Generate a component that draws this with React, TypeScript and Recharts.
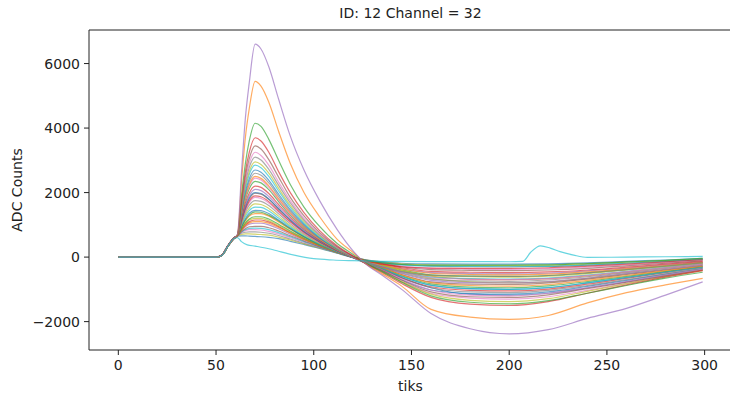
import { Line, LineChart, ReferenceLine, XAxis, YAxis } from "recharts";

// sample positions (tiks) shared by most traces
const TIKS = [0, 50, 53, 56, 59, 61, 63, 65, 67, 70, 73, 77, 82, 88, 95, 103, 112, 120, 127, 135, 145, 160, 180, 200, 220, 240, 260, 280, 299];

// the cyan trace with the late bump has its own sampling
const CYAN_TIKS = [0, 50, 53, 56, 59, 61, 63, 66, 70, 77, 82, 90, 100, 110, 120, 135, 160, 180, 200, 207, 211, 216, 221, 226, 233, 240, 260, 280, 299];
const cyanBump = [0, 0, 50, 330, 570, 600, 480, 380, 340, 260, 180, 60, -50, -90, -110, -130, -140, -140, -145, -130, 150, 350, 280, 170, 60, -10, 0, 10, 20];

const purple6600 = [0, 0, 60, 350, 580, 720, 2600, 4300, 5400, 6600, 6450, 5900, 4900, 3750, 2700, 1750, 850, 200, -230, -560, -1000, -1750, -2220, -2380, -2250, -1900, -1590, -1180, -770];
const orange5450 = [0, 0, 50, 330, 570, 700, 2300, 3700, 4600, 5450, 5300, 4800, 3900, 2900, 2000, 1250, 550, 150, -220, -520, -900, -1620, -1860, -1930, -1810, -1420, -1100, -860, -660];
const green4150 = [0, 0, 60, 340, 580, 690, 1900, 2900, 3600, 4150, 4050, 3650, 3000, 2250, 1550, 950, 420, 90, -200, -450, -780, -1200, -1400, -1450, -1350, -1120, -880, -650, -470];
const red3700 = [0, 0, 70, 360, 590, 680, 1750, 2650, 3250, 3700, 3600, 3250, 2650, 2000, 1380, 820, 350, 40, -220, -480, -820, -1250, -1460, -1500, -1380, -1120, -860, -620, -420];
const brown3450 = [0, 0, 50, 330, 570, 670, 1650, 2500, 3050, 3450, 3350, 3020, 2480, 1850, 1280, 760, 320, 30, -200, -420, -720, -1080, -1230, -1250, -1170, -980, -780, -580, -400];
const pink3250 = [0, 0, 60, 340, 580, 680, 1600, 2380, 2900, 3250, 3150, 2850, 2330, 1750, 1200, 720, 300, 20, -200, -400, -680, -1020, -1180, -1200, -1120, -950, -760, -560, -380];
const gray3100 = [0, 0, 50, 320, 560, 660, 1550, 2300, 2780, 3100, 3010, 2720, 2230, 1680, 1150, 690, 290, 20, -190, -380, -650, -950, -1080, -1100, -1030, -880, -700, -520, -350];
const olive2950 = [0, 0, 60, 340, 580, 670, 1500, 2200, 2650, 2950, 2870, 2600, 2130, 1600, 1100, 660, 270, 10, -210, -440, -760, -1150, -1340, -1380, -1290, -1060, -820, -600, -410];
const cyan2850 = [0, 0, 50, 330, 570, 670, 1450, 2120, 2560, 2850, 2770, 2500, 2050, 1540, 1050, 630, 260, 10, -180, -360, -600, -880, -980, -1000, -940, -800, -640, -470, -320];
const blue2700 = [0, 0, 60, 340, 590, 680, 1400, 2020, 2430, 2700, 2630, 2380, 1950, 1470, 1010, 600, 250, 0, -200, -410, -700, -1020, -1130, -1150, -1080, -910, -720, -530, -360];
const gray2600 = [0, 0, 50, 330, 570, 660, 1370, 1950, 2340, 2600, 2540, 2300, 1880, 1420, 970, 580, 240, 0, -160, -300, -450, -560, -590, -600, -570, -490, -390, -280, -180];
const orange2500 = [0, 0, 50, 330, 570, 660, 1330, 1880, 2250, 2500, 2440, 2210, 1810, 1370, 940, 560, 230, 0, -170, -330, -550, -790, -880, -900, -850, -720, -570, -420, -290];
const pink2450 = [0, 0, 50, 330, 570, 660, 1310, 1850, 2200, 2450, 2390, 2160, 1770, 1340, 920, 550, 220, -10, -210, -440, -760, -1120, -1270, -1300, -1230, -1030, -810, -590, -400];
const green2350 = [0, 0, 60, 340, 580, 670, 1280, 1780, 2120, 2350, 2300, 2090, 1720, 1300, 900, 540, 220, 0, -180, -350, -580, -830, -930, -950, -890, -760, -600, -440, -300];
const red2200 = [0, 0, 60, 350, 590, 680, 1220, 1680, 1990, 2200, 2160, 1970, 1630, 1240, 860, 520, 210, -10, -190, -380, -640, -920, -1030, -1050, -990, -840, -660, -480, -320];
const purple2100 = [0, 0, 50, 330, 570, 660, 1180, 1610, 1900, 2100, 2060, 1880, 1560, 1190, 830, 500, 210, 0, -160, -310, -510, -720, -790, -800, -760, -650, -510, -380, -260];
const blue2000 = [0, 0, 60, 340, 580, 670, 1150, 1560, 1840, 2000, 1970, 1800, 1500, 1150, 800, 490, 200, -10, -180, -360, -600, -870, -980, -1000, -950, -800, -630, -460, -300];
const brown1980 = [0, 0, 60, 340, 580, 670, 1140, 1530, 1800, 1980, 1950, 1790, 1490, 1140, 790, 480, 200, -10, -170, -330, -540, -770, -840, -850, -800, -680, -540, -400, -270];
const red1900 = [0, 0, 60, 340, 580, 670, 1110, 1480, 1740, 1900, 1870, 1720, 1430, 1100, 770, 470, 200, 0, -130, -220, -300, -340, -350, -350, -330, -280, -220, -150, -80];
const pink1850 = [0, 0, 50, 330, 570, 660, 1090, 1450, 1690, 1850, 1820, 1680, 1400, 1080, 750, 460, 190, 0, -150, -290, -460, -640, -690, -700, -670, -570, -450, -330, -220];
const gray1750 = [0, 0, 60, 340, 580, 670, 1060, 1390, 1610, 1750, 1730, 1600, 1340, 1030, 720, 440, 180, -10, -160, -310, -490, -680, -740, -750, -710, -610, -480, -350, -230];
const olive1650 = [0, 0, 50, 330, 570, 660, 1020, 1320, 1520, 1650, 1630, 1510, 1270, 980, 690, 420, 180, 0, -140, -260, -410, -570, -610, -620, -590, -510, -400, -290, -190];
const cyan1550 = [0, 0, 60, 340, 580, 670, 990, 1260, 1440, 1550, 1540, 1430, 1210, 940, 660, 400, 170, -10, -150, -280, -450, -620, -670, -680, -650, -560, -440, -320, -210];
const blue1450 = [0, 0, 50, 330, 570, 660, 950, 1190, 1360, 1450, 1440, 1350, 1150, 900, 640, 390, 160, -20, -180, -370, -640, -950, -1150, -1180, -1120, -950, -760, -560, -380];
const green1400 = [0, 0, 50, 330, 570, 660, 930, 1150, 1300, 1400, 1390, 1300, 1120, 880, 630, 390, 170, 0, -110, -180, -230, -250, -250, -250, -240, -200, -150, -100, -40];
const orange1350 = [0, 0, 60, 340, 580, 670, 920, 1120, 1270, 1350, 1350, 1270, 1090, 860, 620, 380, 160, 0, -130, -240, -370, -500, -540, -550, -530, -460, -360, -260, -170];
const green1250 = [0, 0, 50, 330, 570, 660, 880, 1060, 1180, 1250, 1250, 1180, 1020, 810, 590, 370, 160, -10, -140, -260, -400, -550, -590, -600, -570, -490, -390, -280, -180];
const olive1200 = [0, 0, 50, 330, 570, 660, 870, 1040, 1150, 1200, 1200, 1130, 980, 780, 570, 360, 150, -10, -140, -280, -460, -660, -770, -800, -770, -660, -520, -380, -250];
const red1150 = [0, 0, 60, 350, 590, 670, 850, 1000, 1100, 1150, 1150, 1090, 950, 760, 560, 350, 150, 0, -120, -220, -330, -440, -470, -480, -460, -400, -310, -220, -140];
const orange1100 = [0, 0, 60, 340, 580, 670, 830, 970, 1060, 1100, 1100, 1050, 920, 740, 550, 350, 150, -10, -140, -270, -430, -590, -680, -700, -670, -580, -460, -330, -220];
const purple1050 = [0, 0, 50, 330, 570, 660, 820, 940, 1020, 1050, 1050, 1000, 880, 710, 530, 340, 150, -10, -130, -240, -360, -480, -510, -520, -500, -430, -340, -240, -160];
const brown950 = [0, 0, 60, 340, 580, 670, 790, 880, 940, 950, 950, 910, 810, 660, 500, 320, 140, 0, -110, -200, -300, -390, -410, -420, -400, -350, -270, -190, -120];
const cyan900 = [0, 0, 60, 340, 580, 670, 780, 850, 890, 900, 890, 850, 760, 630, 480, 310, 140, 0, -100, -170, -240, -280, -290, -300, -290, -250, -190, -130, -70];
const pink850 = [0, 0, 50, 330, 570, 660, 760, 820, 850, 850, 840, 800, 720, 600, 460, 300, 140, 0, -100, -180, -270, -350, -370, -380, -360, -310, -240, -170, -110];
const gray780 = [0, 0, 60, 340, 580, 670, 740, 770, 780, 780, 770, 740, 670, 560, 430, 290, 130, 0, -90, -160, -230, -280, -300, -300, -290, -250, -190, -130, -80];
const olive720 = [0, 0, 50, 330, 570, 660, 700, 720, 720, 710, 700, 680, 620, 530, 410, 280, 130, 0, -90, -150, -210, -250, -260, -260, -250, -210, -160, -110, -60];
const blue650 = [0, 0, 60, 340, 580, 650, 660, 660, 650, 640, 630, 610, 570, 490, 390, 270, 120, -10, -90, -140, -190, -210, -220, -220, -210, -180, -130, -90, -40];

const X_TICKS = [0, 50, 100, 150, 200, 250, 300];
const Y_TICKS = [-2000, 0, 2000, 4000, 6000];

const traces = [
  { id: "blue650", color: "#1f77b4", tiks: TIKS, values: blue650 },
  { id: "olive720", color: "#bcbd22", tiks: TIKS, values: olive720 },
  { id: "gray780", color: "#7f7f7f", tiks: TIKS, values: gray780 },
  { id: "pink850", color: "#e377c2", tiks: TIKS, values: pink850 },
  { id: "cyan900", color: "#17becf", tiks: TIKS, values: cyan900 },
  { id: "brown950", color: "#8c564b", tiks: TIKS, values: brown950 },
  { id: "purple1050", color: "#9467bd", tiks: TIKS, values: purple1050 },
  { id: "orange1100", color: "#ff7f0e", tiks: TIKS, values: orange1100 },
  { id: "red1150", color: "#d62728", tiks: TIKS, values: red1150 },
  { id: "olive1200", color: "#bcbd22", tiks: TIKS, values: olive1200 },
  { id: "green1250", color: "#2ca02c", tiks: TIKS, values: green1250 },
  { id: "orange1350", color: "#ff7f0e", tiks: TIKS, values: orange1350 },
  { id: "green1400", color: "#2ca02c", tiks: TIKS, values: green1400 },
  { id: "blue1450", color: "#1f77b4", tiks: TIKS, values: blue1450 },
  { id: "cyan1550", color: "#17becf", tiks: TIKS, values: cyan1550 },
  { id: "olive1650", color: "#bcbd22", tiks: TIKS, values: olive1650 },
  { id: "gray1750", color: "#7f7f7f", tiks: TIKS, values: gray1750 },
  { id: "pink1850", color: "#e377c2", tiks: TIKS, values: pink1850 },
  { id: "red1900", color: "#d62728", tiks: TIKS, values: red1900 },
  { id: "brown1980", color: "#8c564b", tiks: TIKS, values: brown1980 },
  { id: "blue2000", color: "#1f77b4", tiks: TIKS, values: blue2000 },
  { id: "purple2100", color: "#9467bd", tiks: TIKS, values: purple2100 },
  { id: "red2200", color: "#d62728", tiks: TIKS, values: red2200 },
  { id: "green2350", color: "#2ca02c", tiks: TIKS, values: green2350 },
  { id: "pink2450", color: "#e377c2", tiks: TIKS, values: pink2450 },
  { id: "orange2500", color: "#ff7f0e", tiks: TIKS, values: orange2500 },
  { id: "gray2600", color: "#7f7f7f", tiks: TIKS, values: gray2600 },
  { id: "blue2700", color: "#1f77b4", tiks: TIKS, values: blue2700 },
  { id: "cyan2850", color: "#17becf", tiks: TIKS, values: cyan2850 },
  { id: "olive2950", color: "#bcbd22", tiks: TIKS, values: olive2950 },
  { id: "gray3100", color: "#7f7f7f", tiks: TIKS, values: gray3100 },
  { id: "pink3250", color: "#e377c2", tiks: TIKS, values: pink3250 },
  { id: "brown3450", color: "#8c564b", tiks: TIKS, values: brown3450 },
  { id: "red3700", color: "#d62728", tiks: TIKS, values: red3700 },
  { id: "green4150", color: "#2ca02c", tiks: TIKS, values: green4150 },
  { id: "orange5450", color: "#ff7f0e", tiks: TIKS, values: orange5450 },
  { id: "purple6600", color: "#9467bd", tiks: TIKS, values: purple6600 },
  { id: "cyanBump", color: "#17becf", tiks: CYAN_TIKS, values: cyanBump },
];

const fmt = (v: number) => (v < 0 ? "\u2212" + Math.abs(v) : String(v));

const tickStyle = { fontSize: 14, fill: "#222", fontFamily: "DejaVu Sans" };

export default function App() {
  return (
    <div
      style={{
        position: "absolute",
        left: 0,
        top: 0,
        width: 730,
        height: 394,
        overflow: "hidden",
        background: "#fff",
        fontFamily: "DejaVu Sans",
      }}
    >
      <LineChart width={740} height={394} margin={{ top: 30, right: 8, bottom: 0, left: 34 }}>
        <XAxis
          dataKey="t"
          type="number"
          domain={[-15, 314]}
          ticks={X_TICKS}
          allowDataOverflow
          height={44}
          tickSize={5}
          tickMargin={5}
          tick={tickStyle}
          stroke="#222"
          tickLine={{ stroke: "#222" }}
          label={{ value: "tiks", position: "insideBottom", offset: 3, style: { fontSize: 14, fill: "#222" } }}
        />
        <YAxis
          type="number"
          domain={[-2880, 7040]}
          ticks={Y_TICKS}
          allowDataOverflow
          width={55}
          tickSize={5}
          tickMargin={4}
          tick={tickStyle}
          tickFormatter={fmt}
          stroke="#222"
          tickLine={{ stroke: "#222" }}
        />
        {/* top spine */}
        <ReferenceLine y={7040} stroke="#222" strokeWidth={1} />
        {traces.map((tr) => (
          <Line
            key={tr.id}
            data={tr.tiks.map((t, i) => ({ t, v: tr.values[i] }))}
            dataKey="v"
            type="monotone"
            stroke={tr.color}
            strokeOpacity={0.65}
            strokeWidth={1.2}
            dot={false}
            activeDot={false}
            isAnimationActive={false}
          />
        ))}
      </LineChart>
      <div
        style={{
          position: "absolute",
          left: 89,
          width: 643,
          top: 5,
          textAlign: "center",
          fontSize: 14,
          color: "#222",
        }}
      >
        ID: 12 Channel = 32
      </div>
      <div
        style={{
          position: "absolute",
          left: 17,
          top: 190,
          transform: "translate(-50%, -50%) rotate(-90deg)",
          whiteSpace: "nowrap",
          fontSize: 14,
          color: "#222",
        }}
      >
        ADC Counts
      </div>
    </div>
  );
}
